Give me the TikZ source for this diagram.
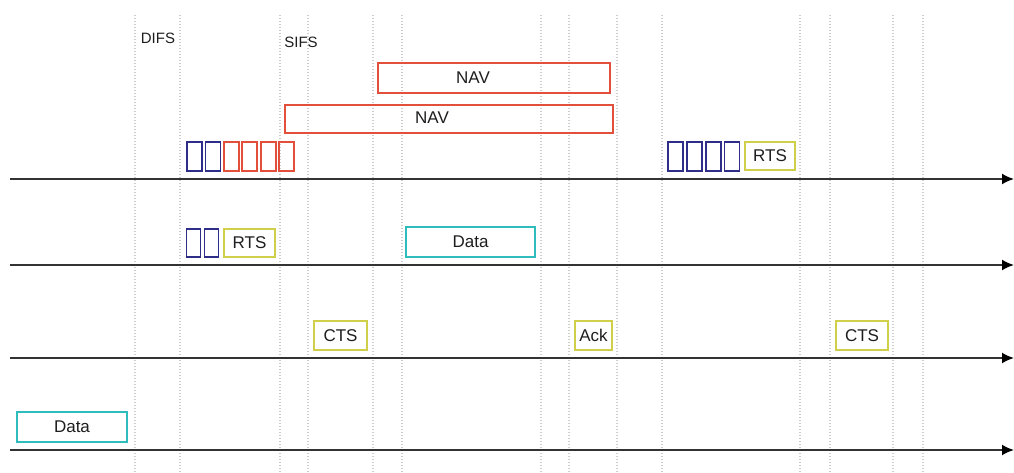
\documentclass[tikz,border=0pt]{standalone}
\usepackage{fontspec}
\setmainfont{Liberation Sans}
\usetikzlibrary{arrows.meta}
\definecolor{navy}{HTML}{2E2E88}
\definecolor{navred}{HTML}{E2503C}
\definecolor{ctsyel}{HTML}{CFCF4A}
\definecolor{datateal}{HTML}{2EBCBC}
\definecolor{txt}{HTML}{1E1E1E}
\definecolor{axisgray}{HTML}{333333}
\tikzset{
  box/.style={draw, line width=1.8pt, inner sep=0pt, minimum height=29pt, font=\fontsize{17}{17}\selectfont, text=txt},
  slotblue/.style={box, draw=navy, minimum width=15pt},
  slotred/.style={box, draw=navred, minimum width=15pt},
  navbox/.style={box, draw=navred, line width=1.5pt},
  ctrlbox/.style={box, draw=ctsyel},
  databox/.style={box, draw=datateal, minimum height=30pt},
  lbl/.style={inner sep=0pt, font=\fontsize{17}{17}\selectfont, text=txt},
  ifs/.style={inner sep=0pt, font=\fontsize{15}{15}\selectfont, text=txt},
  grid/.style={draw=gray!40, dash pattern=on 1.2pt off 1.8pt, line width=1.1pt},
  timeaxis/.style={draw=axisgray, line width=1.8pt, -{Latex[length=12pt,width=11pt,color=black]}}
}
\begin{document}
\begin{tikzpicture}[x=1pt,y=-1pt]
\useasboundingbox[fill=white] (0,0) rectangle (1014,473);
% dotted time grid
\foreach \gx in {135,180,280,308,373,402,541,569,617,662,800,830,893,923}
  \draw[grid] (\gx,15) -- (\gx,473);
% time axes
\foreach \ay/\an in {179/1,265/2,358/3,450/4}{
  \coordinate (s\an) at (10,\ay);
  \coordinate (e\an) at (1014,\ay);
  \draw[timeaxis] (s\an) -- (e\an);
}
% interframe spaces
\node[ifs] (difs) at (158,38) {DIFS};
\node[ifs] (sifs) at (301,42) {SIFS};
% NAV boxes
\node[navbox, minimum width=232pt, minimum height=30pt] (nav1) at (494,78) {};
\node[lbl] (nav1t) at (473,78) {NAV};
\node[navbox, minimum width=328pt, minimum height=28pt] (nav2) at (449,119) {};
\node[lbl] (nav2t) at (432,118) {NAV};
% row 1
\node[slotblue] (r1b1) at (194.5,156.5) {};
\node[slotblue] (r1b2) at (212.9,156.5) {};
\node[slotred] (r1r1) at (231.3,156.5) {};
\node[slotred] (r1r2) at (249.7,156.5) {};
\node[slotred] (r1r3) at (268.1,156.5) {};
\node[slotred] (r1r4) at (286.5,156.5) {};
\node[slotblue] (r1c1) at (675.5,156.5) {};
\node[slotblue] (r1c2) at (694.3,156.5) {};
\node[slotblue] (r1c3) at (713.1,156.5) {};
\node[slotblue] (r1c4) at (732,156.5) {};
\node[ctrlbox, minimum width=50pt, minimum height=28pt] (rts1) at (770,156) {RTS};
% row 2
\node[slotblue, minimum width=14pt, minimum height=28pt] (r2b1) at (193.5,243) {};
\node[slotblue, minimum width=14pt, minimum height=28pt] (r2b2) at (211.5,243) {};
\node[ctrlbox, minimum width=51pt, minimum height=28pt] (rts2) at (249.5,243) {RTS};
\node[databox, minimum width=129pt] (data2) at (470.5,242) {Data};
% row 3
\node[ctrlbox, minimum width=53pt] (cts1) at (340.5,335.5) {CTS};
\node[ctrlbox, minimum width=37pt] (ack) at (593.5,335.5) {Ack};
\node[ctrlbox, minimum width=52pt] (cts2) at (862,335.5) {CTS};
% row 4
\node[databox, minimum width=110pt] (data4) at (72,427) {Data};
\end{tikzpicture}
\end{document}
